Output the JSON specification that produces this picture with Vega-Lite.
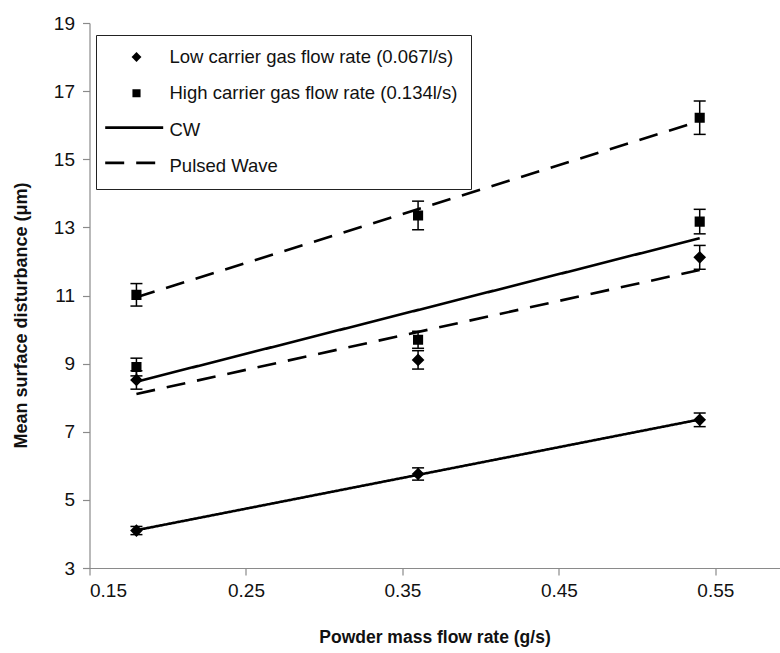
{
  "$schema": "https://vega.github.io/schema/vega-lite/v6.json",
  "width": 690,
  "height": 545,
  "autosize": {"type": "none"},
  "padding": {"left": 89.5, "top": 23, "right": 0, "bottom": 85},
  "background": "white",
  "config": {
    "view": {"stroke": null},
    "font": "Liberation Sans",
    "axis": {
      "grid": false,
      "domainColor": "#8a8a8a",
      "tickColor": "#8a8a8a",
      "domainWidth": 1.2,
      "tickWidth": 1.2,
      "tickSize": 7,
      "labelFont": "Liberation Sans",
      "labelFontSize": 19,
      "labelColor": "#111",
      "titleFont": "Liberation Sans",
      "titleFontWeight": "bold",
      "titleColor": "#111"
    }
  },
  "datasets": {
    "points": [
      {"x": 0.18, "y": 4.10, "lo": 3.98, "hi": 4.22, "gas": "Low carrier gas flow rate (0.067l/s)", "mode": "CW"},
      {"x": 0.36, "y": 5.76, "lo": 5.58, "hi": 5.94, "gas": "Low carrier gas flow rate (0.067l/s)", "mode": "CW"},
      {"x": 0.54, "y": 7.35, "lo": 7.15, "hi": 7.55, "gas": "Low carrier gas flow rate (0.067l/s)", "mode": "CW"},
      {"x": 0.18, "y": 8.52, "lo": 8.25, "hi": 8.79, "gas": "Low carrier gas flow rate (0.067l/s)", "mode": "Pulsed Wave"},
      {"x": 0.36, "y": 9.11, "lo": 8.84, "hi": 9.38, "gas": "Low carrier gas flow rate (0.067l/s)", "mode": "Pulsed Wave"},
      {"x": 0.54, "y": 12.12, "lo": 11.77, "hi": 12.47, "gas": "Low carrier gas flow rate (0.067l/s)", "mode": "Pulsed Wave"},
      {"x": 0.18, "y": 8.90, "lo": 8.64, "hi": 9.16, "gas": "High carrier gas flow rate (0.134l/s)", "mode": "CW"},
      {"x": 0.36, "y": 9.70, "lo": 9.45, "hi": 9.95, "gas": "High carrier gas flow rate (0.134l/s)", "mode": "CW"},
      {"x": 0.54, "y": 13.17, "lo": 12.81, "hi": 13.53, "gas": "High carrier gas flow rate (0.134l/s)", "mode": "CW"},
      {"x": 0.18, "y": 11.02, "lo": 10.69, "hi": 11.35, "gas": "High carrier gas flow rate (0.134l/s)", "mode": "Pulsed Wave"},
      {"x": 0.36, "y": 13.35, "lo": 12.93, "hi": 13.77, "gas": "High carrier gas flow rate (0.134l/s)", "mode": "Pulsed Wave"},
      {"x": 0.54, "y": 16.22, "lo": 15.73, "hi": 16.71, "gas": "High carrier gas flow rate (0.134l/s)", "mode": "Pulsed Wave"}
    ],
    "lines": [
      {"x": 0.18, "y": 4.11, "series": "Low CW", "mode": "CW"},
      {"x": 0.54, "y": 7.36, "series": "Low CW", "mode": "CW"},
      {"x": 0.18, "y": 8.47, "series": "High CW", "mode": "CW"},
      {"x": 0.54, "y": 12.68, "series": "High CW", "mode": "CW"},
      {"x": 0.18, "y": 8.11, "series": "Low Pulsed", "mode": "Pulsed Wave"},
      {"x": 0.54, "y": 11.75, "series": "Low Pulsed", "mode": "Pulsed Wave"},
      {"x": 0.18, "y": 10.95, "series": "High Pulsed", "mode": "Pulsed Wave"},
      {"x": 0.54, "y": 16.12, "series": "High Pulsed", "mode": "Pulsed Wave"}
    ]
  },
  "encoding": {
    "x": {
      "field": "x",
      "type": "quantitative",
      "scale": {"domain": [0.15, 0.591], "nice": false, "zero": false},
      "axis": {
        "values": [0.15, 0.25, 0.35, 0.45, 0.55],
        "format": ".2f",
        "labelPadding": 6,
        "title": "Powder mass flow rate (g/s)",
        "titleFontSize": 17.5,
        "titlePadding": 28
      }
    }
  },
  "resolve": {"legend": {"shape": "independent", "strokeDash": "independent"}},
  "layer": [
    {
      "data": {"name": "lines"},
      "mark": {"type": "line", "color": "black", "strokeWidth": 2.6},
      "encoding": {
        "y": {
          "field": "y",
          "type": "quantitative",
          "scale": {"domain": [3, 19], "nice": false, "zero": false},
          "axis": {
            "values": [3, 5, 7, 9, 11, 13, 15, 17, 19],
            "format": "d",
            "labelPadding": 8,
            "title": "Mean surface disturbance (μm)",
            "titleFontSize": 18,
            "titlePadding": 23,
            "titleY": 292
          }
        },
        "detail": {"field": "series"},
        "strokeDash": {
          "field": "mode",
          "type": "nominal",
          "scale": {"domain": ["CW", "Pulsed Wave"], "range": [[1, 0], [19, 12]]},
          "legend": {
            "orient": "none",
            "legendX": 14.2,
            "legendY": 95.6,
            "title": null,
            "padding": 0,
            "rowPadding": 17.3,
            "clipHeight": 18,
            "labelExpr": "''",
            "labelFontSize": 1,
            "labelOffset": 0,
            "symbolType": "stroke",
            "symbolSize": 3364,
            "symbolStrokeWidth": 2.6,
            "symbolStrokeColor": "black"
          }
        }
      }
    },
    {
      "data": {"name": "points"},
      "mark": {"type": "rule", "color": "black", "strokeWidth": 1.5},
      "encoding": {
        "y": {"field": "lo", "type": "quantitative"},
        "y2": {"field": "hi"}
      }
    },
    {
      "data": {"name": "points"},
      "mark": {"type": "tick", "orient": "horizontal", "color": "black", "size": 12, "thickness": 1.5, "opacity": 1},
      "encoding": {
        "y": {"field": "lo", "type": "quantitative"}
      }
    },
    {
      "data": {"name": "points"},
      "mark": {"type": "tick", "orient": "horizontal", "color": "black", "size": 12, "thickness": 1.5, "opacity": 1},
      "encoding": {
        "y": {"field": "hi", "type": "quantitative"}
      }
    },
    {
      "data": {"name": "points"},
      "mark": {
        "type": "point",
        "filled": true,
        "size": 3364,
        "color": "black",
        "stroke": "black",
        "strokeWidth": 2,
        "opacity": 1
      },
      "encoding": {
        "y": {"field": "y", "type": "quantitative"},
        "shape": {
          "field": "gas",
          "type": "nominal",
          "scale": {
            "domain": [
              "Low carrier gas flow rate (0.067l/s)",
              "High carrier gas flow rate (0.134l/s)",
              "CW",
              "Pulsed Wave"
            ],
            "range": [
              "M0,-0.17L0.17,0L0,0.17L-0.17,0Z",
              "M-0.14,-0.14H0.14V0.14H-0.14Z",
              "M0,0",
              "M0,0"
            ]
          },
          "legend": {
            "orient": "none",
            "legendX": 6.5,
            "legendY": 12,
            "title": null,
            "strokeColor": "#222",
            "padding": 13,
            "rowPadding": 17.3,
            "clipHeight": 18,
            "labelFont": "Liberation Sans",
            "labelFontSize": 18.5,
            "labelColor": "#111",
            "labelLimit": 0,
            "labelOffset": 4,
            "symbolOffset": -1.5,
            "symbolSize": 3364,
            "symbolFillColor": "black",
            "symbolStrokeWidth": 0,
            "symbolOpacity": 1
          }
        }
      }
    }
  ]
}
